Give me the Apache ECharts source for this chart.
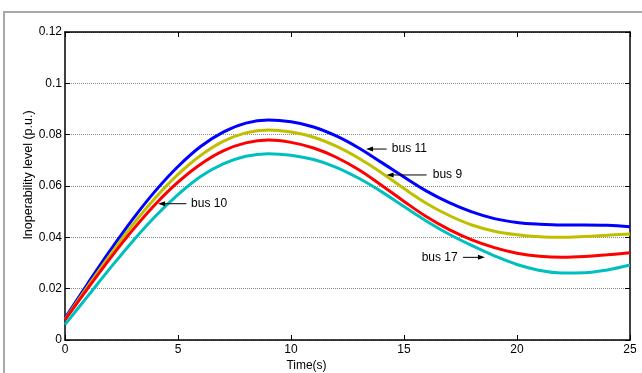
<!DOCTYPE html>
<html><head><meta charset="utf-8">
<script src="https://cdn.jsdelivr.net/npm/echarts@6/dist/echarts.min.js"></script>
<style>html,body{margin:0;padding:0;background:#fff}#c{width:642px;height:373px}</style>
</head><body><div id="c"></div>
<script>
var time = [0,1,2,3,4,5,6,7,8,9,10,11,12,13,14,15,16,17,18,19,20,21,22,23,24,25];
var bus11 = [0.0085,0.0219,0.0349,0.0471,0.0581,0.0676,0.0754,0.0810,0.0845,0.0857,0.0850,0.0830,0.0795,0.0748,0.0692,0.0635,0.0580,0.0535,0.0499,0.0473,0.0458,0.0451,0.0448,0.0448,0.0447,0.0441];
var bus9  = [0.0080,0.0208,0.0332,0.0449,0.0554,0.0645,0.0719,0.0774,0.0807,0.0818,0.0810,0.0790,0.0755,0.0708,0.0652,0.0590,0.0532,0.0485,0.0448,0.0424,0.0410,0.0402,0.0400,0.0403,0.0408,0.0413];
var bus10 = [0.0078,0.0200,0.0318,0.0429,0.0529,0.0615,0.0685,0.0737,0.0768,0.0779,0.0770,0.0748,0.0712,0.0663,0.0603,0.0540,0.0480,0.0430,0.0390,0.0360,0.0338,0.0326,0.0322,0.0325,0.0332,0.0340];
var bus17 = [0.0060,0.0170,0.0280,0.0385,0.0482,0.0566,0.0637,0.0686,0.0716,0.0726,0.0720,0.0703,0.0673,0.0630,0.0578,0.0520,0.0463,0.0412,0.0368,0.0328,0.0294,0.0271,0.0261,0.0262,0.0273,0.0292];
var seriesNames = ['bus 11','bus 9','bus 10','bus 17'];
var seriesColors = ['#0000ff','#bfbf00','#ff0000','#00bfbf'];
// annotations in data coordinates: [label, textX, textY, arrowFromX, arrowToX]
var notes = [
  ['bus 11', 14.46, 0.0744, 14.23, 13.32],
  ['bus 9', 16.27, 0.0643, 16.0, 14.23],
  ['bus 10', 5.58, 0.0531, 5.37, 4.12],
  ['bus 17', 15.78, 0.0322, 17.61, 18.58]
];

var all = [bus11, bus9, bus10, bus17];
function pairs(arr){ return time.map(function(t,i){return [t, arr[i]];}); }
var font = 'Liberation Sans, Arial, sans-serif';
var chart = echarts.init(document.getElementById('c'), null, {renderer:'canvas'});
var axisCommon = {
  axisLine:{show:true, onZero:false, lineStyle:{color:'#000', width:1.5}},
  axisTick:{show:true, inside:true, length:5, lineStyle:{color:'#000', width:1}}
};
chart.setOption({
  animation:false,
  backgroundColor:'#fff',
  grid:{left:65, right:12, top:32, bottom:33, outerBoundsMode:'none', containLabel:false},
  xAxis:[
    Object.assign({type:'value', min:0, max:25, interval:5, position:'bottom',
      name:'Time(s)', nameLocation:'middle', nameGap:20, nameMoveOverlap:false,
      nameTextStyle:{color:'#000', fontSize:12, fontFamily:font, padding:[0,82,0,0]},
      axisLabel:{color:'#000', fontSize:12, fontFamily:font, margin:4},
      splitLine:{show:false}}, axisCommon),
    Object.assign({type:'value', min:0, max:25, interval:5, position:'top',
      axisLabel:{show:false}, splitLine:{show:false}}, axisCommon)
  ],
  yAxis:[
    Object.assign({type:'value', min:0, max:0.12, interval:0.02, position:'left',
      name:'Inoperability level (p.u.)', nameLocation:'middle', nameGap:30, nameMoveOverlap:false,
      nameTextStyle:{color:'#000', fontSize:12.5, fontFamily:font, padding:[0,0,0,22]},
      axisLabel:{color:'#000', fontSize:12, fontFamily:font, margin:3,
        formatter:function(v){ return String(+v.toFixed(2)); }},
      splitLine:{show:true, lineStyle:{color:'#888', type:[1,1], width:1}}}, axisCommon),
    Object.assign({type:'value', min:0, max:0.12, interval:0.02, position:'right',
      axisLabel:{show:false}, splitLine:{show:false}}, axisCommon)
  ],
  series: all.map(function(arr,i){
    return {type:'line', name:seriesNames[i], data:pairs(arr), smooth:0.4, showSymbol:false,
      lineStyle:{color:seriesColors[i], width:3}, itemStyle:{color:seriesColors[i]}, z:3+i};
  })
});

var g = [{type:'rect', shape:{x:4, y:12, width:700, height:400}, style:{fill:null, stroke:'#a8a8a8', lineWidth:2}, silent:true}];
notes.forEach(function(n){
  var tp = chart.convertToPixel({xAxisIndex:0, yAxisIndex:0}, [n[1], n[2]]);
  var a = chart.convertToPixel({xAxisIndex:0, yAxisIndex:0}, [n[3], n[2]]);
  var b = chart.convertToPixel({xAxisIndex:0, yAxisIndex:0}, [n[4], n[2]]);
  var dir = b[0] > a[0] ? 1 : -1;
  g.push({type:'text', x:tp[0], y:tp[1], style:{text:n[0], fill:'#000', font:'12px '+font, verticalAlign:'middle'}, z:20});
  g.push({type:'line', shape:{x1:a[0], y1:a[1], x2:b[0]-dir*5, y2:b[1]}, style:{stroke:'#000', lineWidth:1}, z:20});
  g.push({type:'polygon', shape:{points:[[b[0], b[1]], [b[0]-dir*7, b[1]-2.5], [b[0]-dir*7, b[1]+2.5]]}, style:{fill:'#000'}, z:20});
});
chart.setOption({graphic:g});
</script></body></html>
